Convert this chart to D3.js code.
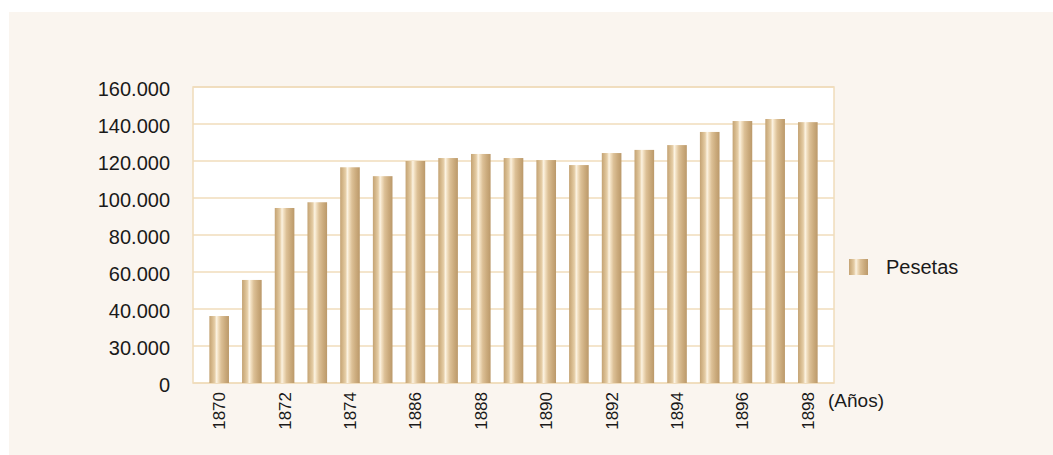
<!DOCTYPE html>
<html>
<head>
<meta charset="utf-8">
<script src="https://cdn.jsdelivr.net/npm/d3@7"></script>
<style>
  body { margin: 0; background: #fff; }
  svg { display: block; font-family: "Liberation Sans", Arial, sans-serif; }
</style>
</head>
<body>
<svg id="chart" width="1053" height="455"></svg>
<script>
const years = ["1870", "1871", "1872", "1873", "1874", "1875",
    "1886", "1887", "1888", "1889", "1890", "1891", "1892",
    "1893", "1894", "1895", "1896", "1897", "1898"];
const pesetas = [36200, 55700, 94600, 97700, 116600, 111800,
    120000, 121600, 123800, 121600, 120500, 117800, 124300,
    126000, 128600, 135700, 141600, 142700, 141000];
const yTicks = [0, 20000, 40000, 60000, 80000, 100000, 120000, 140000, 160000];
// the original prints 30.000 at the second gridline
const yTickLabels = ["0", "30.000", "40.000", "60.000", "80.000",
    "100.000", "120.000", "140.000", "160.000"];
const seriesName = "Pesetas";
const xTitle = "(Años)";

const svg = d3.select("#chart");
const width = +svg.attr("width");
const height = +svg.attr("height");
const margin = { top: 87, right: 219, bottom: 72, left: 193 };
const plotW = width - margin.left - margin.right;
const plotH = height - margin.top - margin.bottom;

// cream panel
svg.append("rect")
    .attr("x", 9).attr("y", 12)
    .attr("width", width - 9).attr("height", height - 12)
    .attr("fill", "#faf5ef");

// bar gradient (vertical stripes)
const grad = svg.append("defs").append("linearGradient")
    .attr("id", "barGrad")
    .attr("x1", "0%").attr("x2", "100%").attr("y1", "0%").attr("y2", "0%");
[
    [0, "#c4a374"], [0.14, "#d5b88b"], [0.27, "#e5cda6"], [0.37, "#fcf3e2"],
    [0.45, "#f2e0c2"], [0.6, "#dcc096"], [0.8, "#cbab7d"], [1, "#bb996a"]
].forEach(([o, c]) => grad.append("stop").attr("offset", o).attr("stop-color", c));

const x = d3.scaleBand()
    .domain(years)
    .range([margin.left, margin.left + plotW])
    .paddingInner(0.4)
    .paddingOuter(0.5);

const y = d3.scaleLinear()
    .domain([0, 160000])
    .range([margin.top + plotH, margin.top]);

// plot background
svg.append("rect")
    .attr("x", margin.left).attr("y", margin.top)
    .attr("width", plotW).attr("height", plotH)
    .attr("fill", "#fff");

// gridlines
svg.append("g")
    .selectAll("line")
    .data(yTicks)
    .enter().append("line")
    .attr("x1", margin.left).attr("x2", margin.left + plotW)
    .attr("y1", d => y(d)).attr("y2", d => y(d))
    .attr("stroke", "#f0dcbb")
    .attr("stroke-width", 1.5);

// plot border
svg.append("rect")
    .attr("x", margin.left).attr("y", margin.top)
    .attr("width", plotW).attr("height", plotH)
    .attr("fill", "none")
    .attr("stroke", "#f0dcbb")
    .attr("stroke-width", 1.5);

// bars
svg.append("g")
    .selectAll("rect")
    .data(years.map((yr, i) => ({ yr, v: pesetas[i] })))
    .enter().append("rect")
    .attr("x", d => x(d.yr))
    .attr("width", x.bandwidth())
    .attr("y", d => y(d.v))
    .attr("height", d => y(0) - y(d.v))
    .attr("fill", "url(#barGrad)");

// y axis
const yAxis = d3.axisLeft(y)
    .tickValues(yTicks)
    .tickSize(0)
    .tickPadding(23)
    .tickFormat((d, i) => yTickLabels[i]);

svg.append("g")
    .attr("transform", `translate(${margin.left},0)`)
    .call(yAxis)
    .call(g => g.select(".domain").remove())
    .call(g => g.selectAll("text")
        .attr("font-size", 20)
        .attr("font-family", "Liberation Sans, Arial, sans-serif")
        .attr("fill", "#1a1a1a")
        .attr("dy", "0.4em"));

// x axis: every other year
const xAxis = d3.axisBottom(x)
    .tickSize(0)
    .tickFormat((d, i) => i % 2 === 0 ? d : "");

svg.append("g")
    .attr("transform", `translate(0,${margin.top + plotH})`)
    .call(xAxis)
    .call(g => g.select(".domain").remove())
    .call(g => g.selectAll("text")
        .attr("font-size", 17)
        .attr("font-family", "Liberation Sans, Arial, sans-serif")
        .attr("fill", "#1a1a1a")
        .attr("text-anchor", "end")
        .attr("transform", "rotate(-90)")
        .attr("x", -9)
        .attr("y", 0)
        .attr("dy", "0.35em"));

svg.append("text")
    .attr("x", margin.left + plotW - 6)
    .attr("y", 407)
    .attr("font-size", 19)
    .attr("fill", "#1a1a1a")
    .text(xTitle);

// legend
const legend = svg.append("g").attr("transform", "translate(849,259)");
legend.append("rect")
    .attr("width", 19).attr("height", 16)
    .attr("fill", "url(#barGrad)");
legend.append("text")
    .attr("x", 37).attr("y", 8)
    .attr("dy", "0.36em")
    .attr("font-size", 20)
    .attr("fill", "#1a1a1a")
    .text(seriesName);
</script>
</body>
</html>
